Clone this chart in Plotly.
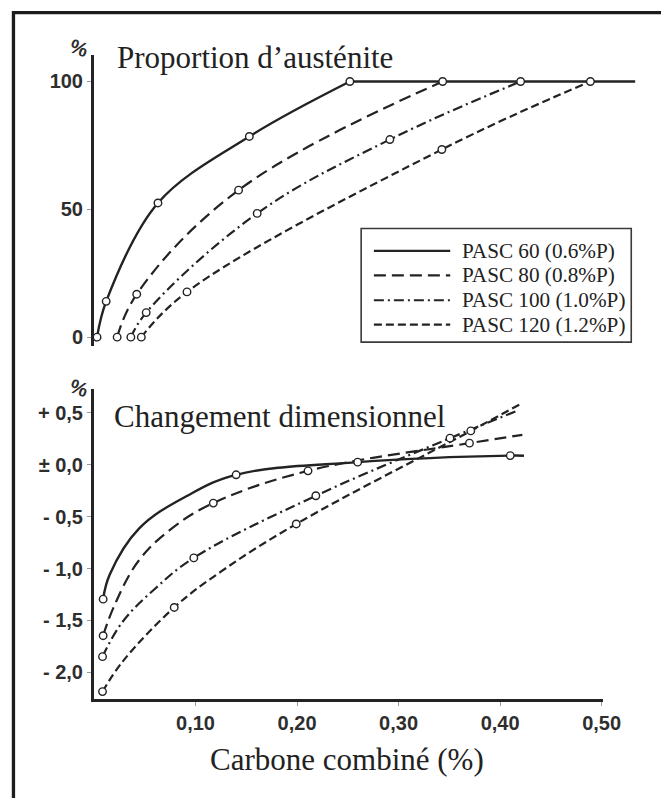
import plotly.graph_objects as go

# ---------------- data ----------------
SERIES_NAMES = ["PASC 60 (0.6%P)", "PASC 80 (0.8%P)", "PASC 100 (1.0%P)", "PASC 120 (1.2%P)"]

# Top panel: Proportion d'austénite (%) vs carbone combiné (%)
AUST_C_60 = [0.003, 0.012, 0.063, 0.153, 0.252, 0.533]
AUST_60 = [0, 14, 52.5, 78.5, 100, 100]
AUST_M_60 = [1, 1, 1, 1, 1, 0]

AUST_C_80 = [0.0228, 0.0421, 0.1424, 0.3434]
AUST_80 = [0, 16.8, 57.5, 100]
AUST_M_80 = [1, 1, 1, 1]

AUST_C_100 = [0.0363, 0.0514, 0.1607, 0.2914, 0.4202]
AUST_100 = [0, 9.6, 48.4, 77.3, 100]
AUST_M_100 = [1, 1, 1, 1, 1]

AUST_C_120 = [0.0466, 0.0916, 0.3426, 0.4889]
AUST_120 = [0, 17.7, 73.4, 100]
AUST_M_120 = [1, 1, 1, 1]

# Bottom panel: Changement dimensionnel (%) vs carbone combiné (%)
DIM_C_60 = [0.009, 0.0154, 0.0443, 0.0925, 0.140, 0.2597, 0.41, 0.4235]
DIM_60 = [-1.295, -1.06, -0.615, -0.295, -0.096, 0.026, 0.089, 0.088]
DIM_M_60 = [1, 0, 0, 0, 1, 1, 1, 0]

DIM_C_80 = [0.009, 0.0202, 0.0443, 0.0764, 0.1175, 0.2108, 0.3698, 0.4219]
DIM_80 = [-1.647, -1.353, -0.92, -0.615, -0.369, -0.058, 0.209, 0.288]
DIM_M_80 = [1, 0, 0, 0, 1, 1, 1, 0]

DIM_C_100 = [0.0084, 0.0282, 0.0604, 0.0983, 0.2185, 0.3506, 0.417]
DIM_100 = [-1.849, -1.5125, -1.192, -0.897, -0.298, 0.257, 0.522]
DIM_M_100 = [1, 0, 0, 1, 1, 1, 0]

DIM_C_120 = [0.0084, 0.0282, 0.079, 0.1246, 0.1992, 0.3711, 0.4202]
DIM_120 = [-2.186, -1.897, -1.375, -1.032, -0.570, 0.327, 0.587]
DIM_M_120 = [1, 0, 1, 0, 1, 1, 0]

AUST_TICKS = [0, 50, 100]
AUST_TICKTEXT = ["0", "50", "100"]
DIM_TICKS = [0.5, 0.0, -0.5, -1.0, -1.5, -2.0]
DIM_TICKTEXT = ["+ 0,5", "± 0,0", "- 0,5", "- 1,0", "- 1,5", "- 2,0"]
C_TICKS = [0.1, 0.2, 0.3, 0.4, 0.5]
C_TICKTEXT = ["0,10", "0,20", "0,30", "0,40", "0,50"]

# ---------------- styling / layout ----------------
W, H = 661, 798
L, R = 94, 6
PLOT_W = W - L - R
PX_PER_C = 1037.5
INK = "#232323"
DASHES = ["solid", "12px,6px", "10px,4px,2px,4px", "8px,4px"]
WIDTHS = [2.4, 2.2, 2.2, 2.2]
SERIF = "Liberation Serif, Times New Roman, serif"
SANS = "Liberation Sans, Arial, sans-serif"


def pxx(x):
    return (x - L) / PLOT_W


def pxy(y):
    return 1 - y / H


fig = go.Figure()


def add_series(xs, ys, marks, k, xa, ya):
    line = dict(color=INK, width=WIDTHS[k], dash=DASHES[k])
    top = max(ys)
    i = ys.index(top)
    if xa == "x" and i < len(ys) - 1:
        # curved rise, then straight plateau at 100 %
        fig.add_trace(go.Scatter(x=xs[:i + 1], y=ys[:i + 1], mode="lines",
                                 line=dict(line, shape="spline", smoothing=1.0),
                                 xaxis=xa, yaxis=ya, showlegend=False, hoverinfo="skip"))
        fig.add_trace(go.Scatter(x=xs[i:], y=ys[i:], mode="lines",
                                 line=dict(line, shape="linear"),
                                 xaxis=xa, yaxis=ya, showlegend=False, hoverinfo="skip"))
    else:
        fig.add_trace(go.Scatter(x=xs, y=ys, mode="lines",
                                 line=dict(line, shape="spline", smoothing=1.1),
                                 xaxis=xa, yaxis=ya, showlegend=False, hoverinfo="skip"))


def add_marks(xs, ys, marks, k, xa, ya):
    mx = [x for x, m in zip(xs, marks) if m]
    my = [y for y, m in zip(ys, marks) if m]
    fig.add_trace(go.Scatter(x=mx, y=my, mode="markers", name=SERIES_NAMES[k],
                             marker=dict(symbol="circle", size=7.5, color="white",
                                         line=dict(color=INK, width=1.4)),
                             xaxis=xa, yaxis=ya, showlegend=False))


top = [(AUST_C_60, AUST_60, AUST_M_60), (AUST_C_80, AUST_80, AUST_M_80),
       (AUST_C_100, AUST_100, AUST_M_100), (AUST_C_120, AUST_120, AUST_M_120)]
bot = [(DIM_C_60, DIM_60, DIM_M_60), (DIM_C_80, DIM_80, DIM_M_80),
       (DIM_C_100, DIM_100, DIM_M_100), (DIM_C_120, DIM_120, DIM_M_120)]

for k, (xs, ys, ms) in enumerate(top):
    add_series(xs, ys, ms, k, "x", "y")
for k, (xs, ys, ms) in enumerate(bot):
    add_series(xs, ys, ms, k, "x2", "y2")
for k, (xs, ys, ms) in enumerate(top):
    add_marks(xs, ys, ms, k, "x", "y")
for k, (xs, ys, ms) in enumerate(bot):
    add_marks(xs, ys, ms, k, "x2", "y2")

tickfont = dict(family=SANS, size=20, color="#2e2e2e", weight="bold")
axis_common = dict(showgrid=False, zeroline=False, showline=True, linecolor=INK, linewidth=3,
                   ticks="outside", ticklen=4, tickwidth=1, tickcolor="#9a9a9a",
                   tickfont=tickfont)

fig.update_layout(
    width=W, height=H,
    margin=dict(l=L, r=R, t=0, b=0, pad=0),
    paper_bgcolor="white", plot_bgcolor="rgba(0,0,0,0)",
    showlegend=False,
    xaxis=dict(domain=[0, 1], range=[0, PLOT_W / PX_PER_C], visible=False, anchor="y"),
    yaxis=dict(axis_common, domain=[pxy(347), pxy(55)],
               range=[(338 - 347) / 2.563, (338 - 55) / 2.563], anchor="x",
               tickvals=AUST_TICKS, ticktext=AUST_TICKTEXT),
    xaxis2=dict(axis_common, domain=[0, 520 / PLOT_W], range=[0, 520 / PX_PER_C], anchor="y2",
                tickvals=C_TICKS, ticktext=C_TICKTEXT),
    yaxis2=dict(axis_common, domain=[pxy(701), pxy(390)],
                range=[(466 - 701) / 104, (466 - 390) / 104], anchor="x2",
                tickvals=DIM_TICKS, ticktext=DIM_TICKTEXT),
)

shapes = []
# outer frame
shapes.append(dict(type="rect", xref="paper", yref="paper",
                   x0=pxx(11.7), x1=pxx(680), y0=pxy(12.7), y1=pxy(815),
                   line=dict(color="#1c1c1c", width=3.3), fillcolor="rgba(0,0,0,0)"))
# legend box
shapes.append(dict(type="rect", xref="paper", yref="paper",
                   x0=pxx(367), x1=pxx(643), y0=pxy(343), y1=pxy(229),
                   line=dict(color="#3a3a3a", width=1.6), fillcolor="white"))
rows = [251.5, 276, 301, 325.5]
annotations = []
for k, ry in enumerate(rows):
    shapes.append(dict(type="line", xref="paper", yref="paper",
                       x0=pxx(380), x1=pxx(458), y0=pxy(ry), y1=pxy(ry),
                       line=dict(color=INK, width=WIDTHS[k], dash=DASHES[k])))
    annotations.append(dict(text=SERIES_NAMES[k], xref="paper", yref="paper",
                            x=pxx(468), y=pxy(ry), xanchor="left", yanchor="middle",
                            showarrow=False, font=dict(family=SERIF, size=21.2, color="#222")))

title_font = dict(family=SERIF, size=31, color="#222")
annotations += [
    dict(text="Proportion d’austénite", xref="paper", yref="paper", x=pxx(115), y=pxy(58),
         xanchor="left", yanchor="middle", showarrow=False, font=title_font),
    dict(text="Changement dimensionnel", xref="paper", yref="paper", x=pxx(112), y=pxy(418),
         xanchor="left", yanchor="middle", showarrow=False, font=title_font),
    dict(text="Carbone combiné (%)", xref="paper", yref="paper", x=pxx(353), y=pxy(761),
         xanchor="center", yanchor="middle", showarrow=False, font=title_font),
    dict(text="<b>%</b>", xref="paper", yref="paper", x=pxx(79), y=pxy(48),
         xanchor="center", yanchor="middle", showarrow=False, textangle=20,
         font=dict(family=SANS, size=20, color="#2e2e2e")),
    dict(text="<b>%</b>", xref="paper", yref="paper", x=pxx(79), y=pxy(389),
         xanchor="center", yanchor="middle", showarrow=False, textangle=20,
         font=dict(family=SANS, size=20, color="#2e2e2e")),
]

fig.update_layout(shapes=shapes, annotations=annotations)
fig.write_html("out.html", config={"displayModeBar": False},
               post_script="document.body.style.margin='0';document.body.style.overflow='hidden';")
